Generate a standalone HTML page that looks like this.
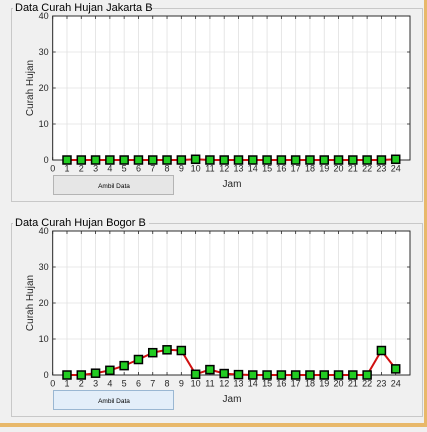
<!DOCTYPE html>
<html><head><meta charset="utf-8"><style>
body{margin:0;width:427px;height:427px;background:#f0f0f0;overflow:hidden;font-family:"Liberation Sans",sans-serif}
</style></head><body>
<svg id="s" width="427" height="427" xmlns="http://www.w3.org/2000/svg">
<rect x="0" y="0" width="427" height="427" fill="#f0f0f0"/>
<rect x="424" y="0" width="3" height="427" fill="#e8b86a"/>
<rect x="0" y="423" width="427" height="4" fill="#e8b86a"/>
</svg>
<script>
const hours=[1,2,3,4,5,6,7,8,9,10,11,12,13,14,15,16,17,18,19,20,21,22,23,24];
const jakartaValues=[0,0,0,0,0,0,0,0,0,0.2,0,0,0,0,0,0,0,0,0,0,0,0,0,0.2];
const bogorValues=[0,0,0.5,1.3,2.6,4.3,6.2,7,6.8,0.2,1.5,0.4,0.1,0,0,0,0,0,0,0,0,0,6.8,1.7];
const xTicks=[0,1,2,3,4,5,6,7,8,9,10,11,12,13,14,15,16,17,18,19,20,21,22,23,24];
const yTicks=[0,10,20,30,40];
const svg=document.getElementById('s');const NS='http://www.w3.org/2000/svg';
function mk(t,a,txt){const e=document.createElementNS(NS,t);for(const k in a)e.setAttribute(k,a[k]);if(txt!==undefined)e.textContent=txt;svg.appendChild(e);return e;}
function panel(py,title,vals,pref,btnBlue){
 const p=mk('rect',{x:11.5,y:py+8.5,width:411,height:193,fill:'none',stroke:'#c8c8c8'});
 
 
 mk('rect',{x:13,y:py+1,width:136,height:12,fill:'#f0f0f0'});
 const tt=mk('text',{x:15,y:py+11,'font-size':11,fill:'#000'},title);
 
 
 const L=52.7,R=410,T=py+16,B=py+160;
 const X=v=>L+(R-L)*v/25, Y=v=>B-(B-T)*v/40;
 const bg=mk('rect',{x:L,y:T,width:R-L,height:B-T,fill:'#fff',stroke:'#262626','stroke-width':0.8});
 
 
 for(const t of xTicks){if(t>0&&t<25)mk('line',{x1:X(t),x2:X(t),y1:T,y2:B,stroke:'#e0e0e0','stroke-width':0.8});}
 for(const t of yTicks){if(t>0&&t<40)mk('line',{x1:L,x2:R,y1:Y(t),y2:Y(t),stroke:'#e0e0e0','stroke-width':0.8});}
 mk('rect',{x:L,y:T,width:R-L,height:B-T,fill:'none',stroke:'#262626','stroke-width':0.8});
 for(const t of xTicks){
  mk('line',{x1:X(t),x2:X(t),y1:B,y2:B-3,stroke:'#262626','stroke-width':0.8});
  mk('line',{x1:X(t),x2:X(t),y1:T,y2:T+3,stroke:'#262626','stroke-width':0.8});
  const tl=mk('text',{x:X(t),y:B+11.5,'font-size':9,'text-anchor':'middle',fill:'#262626'},t);
  
  
 }
 for(const t of yTicks){
  mk('line',{x1:L,x2:L+3,y1:Y(t),y2:Y(t),stroke:'#262626','stroke-width':0.8});
  mk('line',{x1:R,x2:R-3,y1:Y(t),y2:Y(t),stroke:'#262626','stroke-width':0.8});
  const yl=mk('text',{x:L-4,y:Y(t)+3,'font-size':9,'text-anchor':'end',fill:'#262626'},t);
  
  
 }
 const yt=mk('text',{x:0,y:0,'font-size':10,'text-anchor':'middle',fill:'#262626',transform:`translate(33,${(T+B)/2}) rotate(-90)`},'Curah Hujan');
 
 
 const xt=mk('text',{x:232,y:B+27,'font-size':10,'text-anchor':'middle',fill:'#262626'},'Jam');
 
 
 const ln=mk('polyline',{points:hours.map((h,i)=>X(h)+','+Y(vals[i])).join(' '),fill:'none',stroke:'#d01010','stroke-width':2});
 
 
 hours.forEach((h,i)=>{
  const m=mk('rect',{x:X(h)-4,y:Y(vals[i])-4,width:8,height:8,fill:'#22cc22',stroke:'#000','stroke-width':1.5});
  
  
 });
 const bt=mk('rect',{x:53.5,y:py+175.5,width:120,height:19,fill:btnBlue?'#e3eef9':'#e6e6e6',stroke:btnBlue?'#4a7fb0':'#b4b4b4','stroke-dasharray':btnBlue?'1,1':'none'});
 
 
 const btt=mk('text',{x:114,y:py+188,'font-size':6.5,'text-anchor':'middle',fill:'#000'},'Ambil Data');
 
 
}
panel(0,'Data Curah Hujan Jakarta B',jakartaValues,'jakarta',false);
panel(215,'Data Curah Hujan Bogor B',bogorValues,'bogor',true);
</script>
</body></html>
